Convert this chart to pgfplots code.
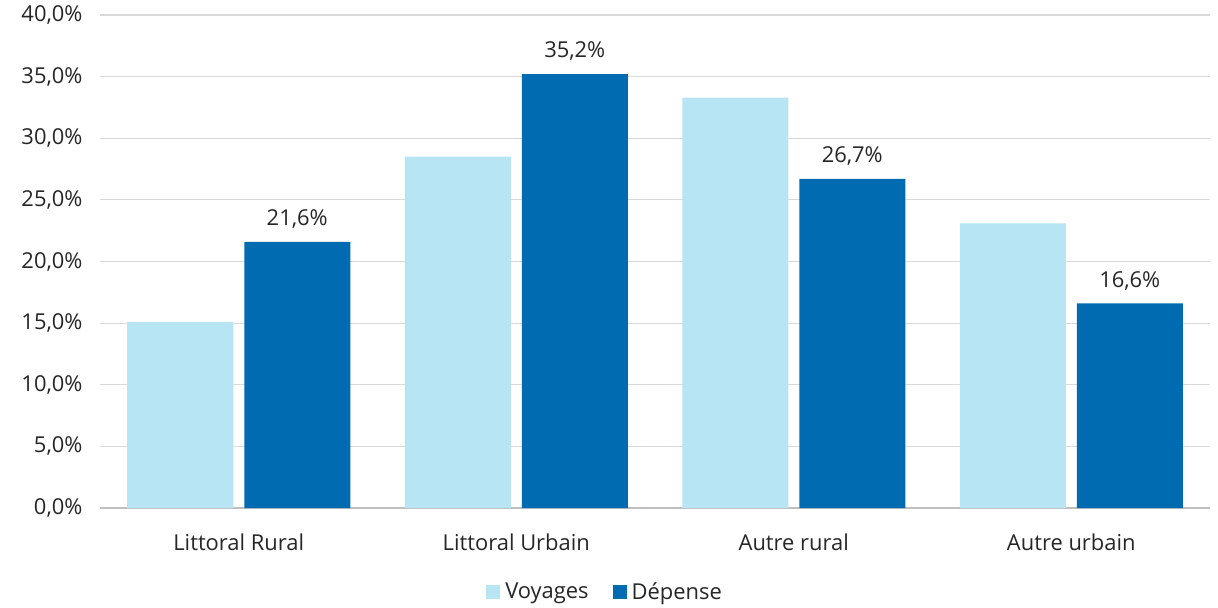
\documentclass[border=0pt]{standalone}
\usepackage{fontspec}
\setmainfont{Open Sans}
\usepackage{pgfplots}
\pgfplotsset{compat=1.18}

\definecolor{voyages}{HTML}{B7E5F4}
\definecolor{depense}{HTML}{006BB0}
\definecolor{gridgray}{HTML}{D9D9D9}
\definecolor{axisgray}{HTML}{BFBFBF}

\begin{document}
\begin{tikzpicture}
\begin{axis}[
    scale only axis,
    width=1110bp, height=493bp,
    xmin=-0.5, xmax=3.5,
    ymin=0, ymax=40,
    ytick={0,5,...,40},
    xtick={0,1,2,3},
    xticklabels={Littoral Rural, Littoral Urbain, Autre rural, Autre urbain},
    major tick length=0pt,
    axis x line*=bottom,
    axis y line*=left,
    x axis line style={axisgray, line width=1.2bp},
    y axis line style={draw=none},
    ymajorgrids=true,
    grid style={gridgray, line width=1.2bp},
    ybar,
    bar width=106bp,
    font=\fontsize{22}{25}\selectfont,
    tick label style={font=\fontsize{22}{25}\selectfont, text=black!85},
    /pgf/number format/assume math mode=true,
    yticklabel={\pgfmathprintnumber[fixed, fixed zerofill, precision=1, use comma]{\tick}\%},
    yticklabel style={xshift=-14bp},
    xticklabel style={yshift=-22bp},
    clip=false,
    legend style={draw=none, at={(0.455,-0.170)}, anchor=center,
        legend columns=2, font=\fontsize{22}{25}\selectfont, text=black!85,
        /tikz/every even column/.append style={column sep=22bp}},
    legend image code/.code={\fill[#1] (0bp,-7bp) rectangle (14bp,7bp); \path (17bp,0bp);},
]
\addplot[fill=voyages, draw=none, bar shift=-58.5bp] coordinates {(0,15.1) (1,28.5) (2,33.3) (3,23.1)};
\addplot[fill=depense, draw=none, bar shift=58.5bp,
    nodes near coords={\pgfmathprintnumber[fixed, fixed zerofill, precision=1, use comma, assume math mode=true]{\pgfplotspointmeta}\%},
    every node near coord/.append style={font=\fontsize{22}{25}\selectfont, text=black!85, yshift=10bp}]
    coordinates {(0,21.6) (1,35.2) (2,26.7) (3,16.6)};
\legend{Voyages, Dépense}
\end{axis}
\path (current axis.south west) ++(-100bp,-99bp);
\path (current axis.north east) ++(8bp,15bp);
\end{tikzpicture}
\end{document}
